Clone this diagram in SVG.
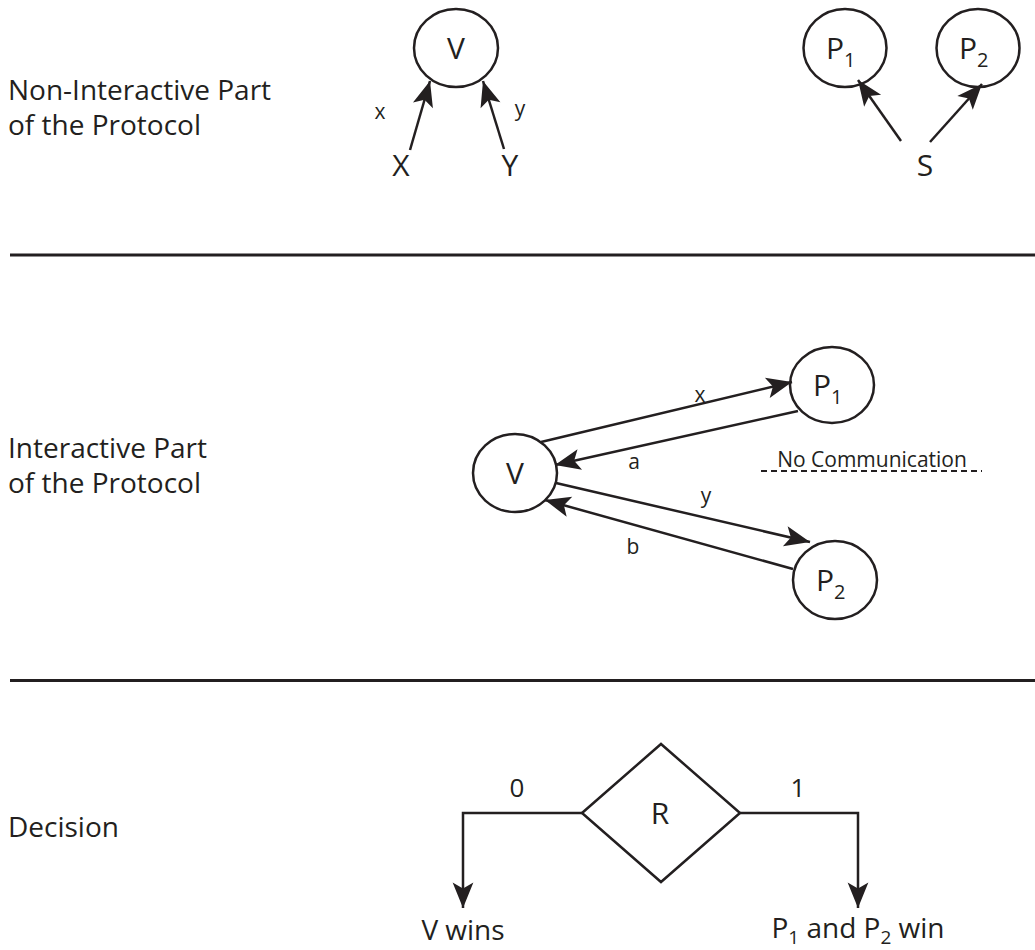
<svg xmlns="http://www.w3.org/2000/svg" width="1035" height="950" viewBox="0 0 1035 950">
<defs>
<style>
.ln{stroke:#231f20;stroke-width:2.5;fill:none}
.nd{stroke:#231f20;stroke-width:2.5;fill:#fff}
.big{font-family:"Open Sans","Noto Sans",sans-serif;font-size:28px;fill:#231f20}
.nl{font-size:30px}
.sm{font-family:"Open Sans","Noto Sans",sans-serif;font-size:21px;fill:#231f20}
.c{text-anchor:middle}
.sub{font-size:20px}
</style>
<marker id="ah" markerUnits="userSpaceOnUse" markerWidth="30" markerHeight="30" viewBox="-24 -11 26 22" refX="0" refY="0" orient="auto">
<path d="M0,0 L-22,-9 L-17,0 L-22,9 Z" fill="#231f20"/>
</marker>
</defs>
<rect width="1035" height="950" fill="#fff"/>

<g id="labels">
<text class="big" x="8" y="100">Non-Interactive Part</text>
<text class="big" x="8" y="135">of the Protocol</text>
<text class="big" x="8" y="458">Interactive Part</text>
<text class="big" x="8" y="493">of the Protocol</text>
<text class="big" x="8" y="837">Decision</text>
</g>

<g id="rules">
<line x1="10" y1="255" x2="1035" y2="255" stroke="#231f20" stroke-width="3"/>
<line x1="10" y1="680.5" x2="1035" y2="680.5" stroke="#231f20" stroke-width="3"/>
</g>

<g id="top-V"><ellipse class="nd" cx="456" cy="48" rx="42" ry="39"/><text class="big nl c" x="456" y="59">V</text></g>
<g id="top-X"><text class="big nl c" x="401" y="176">X</text></g>
<g id="top-Y"><text class="big nl c" x="510" y="176">Y</text></g>
<g id="top-P1"><ellipse class="nd" cx="845" cy="48" rx="41.5" ry="39"/><text class="big nl" x="826" y="59">P<tspan class="sub" dy="8">1</tspan></text></g>
<g id="top-P2"><ellipse class="nd" cx="978" cy="48" rx="41.5" ry="39"/><text class="big nl" x="959" y="59">P<tspan class="sub" dy="8">2</tspan></text></g>
<g id="top-S"><text class="big nl c" x="925" y="176">S</text></g>

<g id="mid-V"><ellipse class="nd" cx="515" cy="473" rx="42" ry="39"/><text class="big nl c" x="515" y="484">V</text></g>
<g id="mid-P1"><ellipse class="nd" cx="832" cy="385" rx="42" ry="38"/><text class="big nl" x="813" y="396">P<tspan class="sub" dy="8">1</tspan></text></g>
<g id="mid-P2"><ellipse class="nd" cx="835" cy="580" rx="42" ry="39"/><text class="big nl" x="816" y="591">P<tspan class="sub" dy="8">2</tspan></text></g>

<g id="R"><polygon class="nd" points="582,813 661,744 740,813 661,882"/><text class="big nl c" x="660" y="824">R</text></g>
<g id="Vwins"><text class="big c" x="463" y="940">V wins</text></g>
<g id="Pwin"><text class="big c" x="858" y="938">P<tspan class="sub" style="font-size:19px" dy="6">1</tspan><tspan dy="-6"> and P</tspan><tspan class="sub" style="font-size:19px" dy="6">2</tspan><tspan dy="-6"> win</tspan></text></g>

<g id="connectors">
<line class="ln" x1="410" y1="150" x2="430" y2="81" marker-end="url(#ah)"/>
<line class="ln" x1="504" y1="149" x2="483" y2="81" marker-end="url(#ah)"/>
<line class="ln" x1="901" y1="141" x2="858" y2="80" marker-end="url(#ah)"/>
<line class="ln" x1="930" y1="142" x2="982" y2="84" marker-end="url(#ah)"/>

<line class="ln" x1="541" y1="442" x2="792" y2="382" marker-end="url(#ah)"/>
<line class="ln" x1="798" y1="411" x2="555" y2="465" marker-end="url(#ah)"/>
<line class="ln" x1="556" y1="483" x2="810" y2="542" marker-end="url(#ah)"/>
<line class="ln" x1="793" y1="569" x2="545" y2="500" marker-end="url(#ah)"/>
<line x1="761" y1="471" x2="982" y2="471" stroke="#231f20" stroke-width="2.2" stroke-dasharray="6,4"/>

<polyline class="ln" points="582,813 463,813 463,908" marker-end="url(#ah)"/>
<polyline class="ln" points="740,813 858,813 858,908" marker-end="url(#ah)"/>
</g>

<g id="edge-labels">
<text class="sm c" x="380" y="119">x</text>
<text class="sm c" x="520" y="116">y</text>
<text class="sm c" x="700" y="402">x</text>
<text class="sm c" x="634" y="469">a</text>
<text class="sm c" x="706" y="503">y</text>
<text class="sm c" x="633" y="554">b</text>
<text class="sm c" x="872" y="467">No Communication</text>
<text class="big c" x="517" y="797" style="font-size:26px">0</text>
<text class="big c" x="798" y="797" style="font-size:26px">1</text>
</g>
</svg>
